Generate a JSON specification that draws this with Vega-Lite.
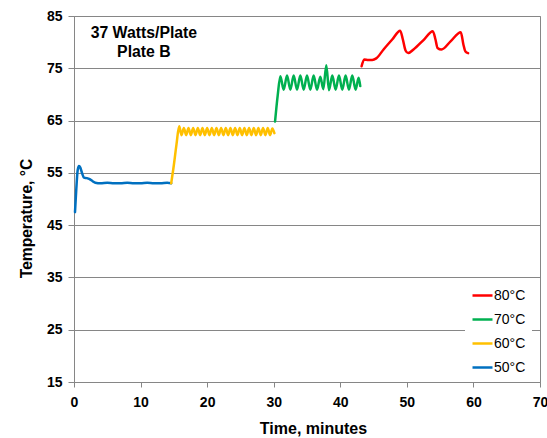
{
  "$schema": "https://vega.github.io/schema/vega-lite/v6.json",
  "width": 466,
  "height": 366,
  "autosize": {"type": "none"},
  "padding": {"left": 74, "top": 16, "right": 7, "bottom": 56},
  "background": "white",
  "config": {
    "font": "Liberation Sans",
    "view": {"stroke": "#868686", "strokeWidth": 1}
  },
  "datasets": {
    "temps": [
      {"series": "50°C", "t": 0.15, "temp": 47.5},
      {"series": "50°C", "t": 0.35, "temp": 52.0},
      {"series": "50°C", "t": 0.55, "temp": 55.5},
      {"series": "50°C", "t": 0.75, "temp": 56.3},
      {"series": "50°C", "t": 0.95, "temp": 56.0},
      {"series": "50°C", "t": 1.2, "temp": 55.0},
      {"series": "50°C", "t": 1.5, "temp": 54.1},
      {"series": "50°C", "t": 1.9, "temp": 54.0},
      {"series": "50°C", "t": 2.35, "temp": 53.8},
      {"series": "50°C", "t": 2.8, "temp": 53.4},
      {"series": "50°C", "t": 3.2, "temp": 53.1},
      {"series": "50°C", "t": 4, "temp": 53.0},
      {"series": "50°C", "t": 5, "temp": 53.1},
      {"series": "50°C", "t": 6, "temp": 53.0},
      {"series": "50°C", "t": 7, "temp": 53.0},
      {"series": "50°C", "t": 8, "temp": 53.1},
      {"series": "50°C", "t": 9, "temp": 53.0},
      {"series": "50°C", "t": 10, "temp": 53.0},
      {"series": "50°C", "t": 11, "temp": 53.1},
      {"series": "50°C", "t": 12, "temp": 53.0},
      {"series": "50°C", "t": 13, "temp": 53.0},
      {"series": "50°C", "t": 14, "temp": 53.1},
      {"series": "50°C", "t": 14.6, "temp": 53.0},

      {"series": "60°C", "t": 14.6, "temp": 53.0},
      {"series": "60°C", "t": 15.0, "temp": 56.5},
      {"series": "60°C", "t": 15.4, "temp": 60.5},
      {"series": "60°C", "t": 15.8, "temp": 63.9},
      {"series": "60°C", "t": 16.15, "temp": 62.2},
      {"series": "60°C", "t": 16.5, "temp": 63.6},
      {"series": "60°C", "t": 16.85, "temp": 62.2},
      {"series": "60°C", "t": 17.2, "temp": 63.6},
      {"series": "60°C", "t": 17.55, "temp": 62.2},
      {"series": "60°C", "t": 17.9, "temp": 63.6},
      {"series": "60°C", "t": 18.25, "temp": 62.2},
      {"series": "60°C", "t": 18.6, "temp": 63.6},
      {"series": "60°C", "t": 18.95, "temp": 62.2},
      {"series": "60°C", "t": 19.3, "temp": 63.6},
      {"series": "60°C", "t": 19.65, "temp": 62.2},
      {"series": "60°C", "t": 20.0, "temp": 63.6},
      {"series": "60°C", "t": 20.35, "temp": 62.2},
      {"series": "60°C", "t": 20.7, "temp": 63.6},
      {"series": "60°C", "t": 21.05, "temp": 62.2},
      {"series": "60°C", "t": 21.4, "temp": 63.6},
      {"series": "60°C", "t": 21.75, "temp": 62.2},
      {"series": "60°C", "t": 22.1, "temp": 63.6},
      {"series": "60°C", "t": 22.45, "temp": 62.2},
      {"series": "60°C", "t": 22.8, "temp": 63.6},
      {"series": "60°C", "t": 23.15, "temp": 62.2},
      {"series": "60°C", "t": 23.5, "temp": 63.6},
      {"series": "60°C", "t": 23.85, "temp": 62.2},
      {"series": "60°C", "t": 24.2, "temp": 63.6},
      {"series": "60°C", "t": 24.55, "temp": 62.2},
      {"series": "60°C", "t": 24.9, "temp": 63.6},
      {"series": "60°C", "t": 25.25, "temp": 62.2},
      {"series": "60°C", "t": 25.6, "temp": 63.6},
      {"series": "60°C", "t": 25.95, "temp": 62.2},
      {"series": "60°C", "t": 26.3, "temp": 63.6},
      {"series": "60°C", "t": 26.65, "temp": 62.2},
      {"series": "60°C", "t": 27.0, "temp": 63.6},
      {"series": "60°C", "t": 27.35, "temp": 62.2},
      {"series": "60°C", "t": 27.7, "temp": 63.6},
      {"series": "60°C", "t": 28.05, "temp": 62.2},
      {"series": "60°C", "t": 28.4, "temp": 63.6},
      {"series": "60°C", "t": 28.75, "temp": 62.2},
      {"series": "60°C", "t": 29.1, "temp": 63.6},
      {"series": "60°C", "t": 29.45, "temp": 62.2},
      {"series": "60°C", "t": 29.8, "temp": 63.5},
      {"series": "60°C", "t": 30.1, "temp": 62.6},

      {"series": "70°C", "t": 30.2, "temp": 64.8},
      {"series": "70°C", "t": 30.6, "temp": 69.8},
      {"series": "70°C", "t": 31.0, "temp": 73.5},
      {"series": "70°C", "t": 31.5, "temp": 70.9},
      {"series": "70°C", "t": 32.0, "temp": 73.6},
      {"series": "70°C", "t": 32.5, "temp": 70.9},
      {"series": "70°C", "t": 33.0, "temp": 73.6},
      {"series": "70°C", "t": 33.5, "temp": 70.9},
      {"series": "70°C", "t": 34.0, "temp": 73.6},
      {"series": "70°C", "t": 34.5, "temp": 70.9},
      {"series": "70°C", "t": 35.0, "temp": 73.6},
      {"series": "70°C", "t": 35.5, "temp": 70.9},
      {"series": "70°C", "t": 36.0, "temp": 73.6},
      {"series": "70°C", "t": 36.5, "temp": 70.9},
      {"series": "70°C", "t": 37.0, "temp": 73.4},
      {"series": "70°C", "t": 37.45, "temp": 71.0},
      {"series": "70°C", "t": 37.9, "temp": 75.6},
      {"series": "70°C", "t": 38.3, "temp": 70.8},
      {"series": "70°C", "t": 38.8, "temp": 73.6},
      {"series": "70°C", "t": 39.3, "temp": 70.9},
      {"series": "70°C", "t": 39.8, "temp": 73.6},
      {"series": "70°C", "t": 40.3, "temp": 70.9},
      {"series": "70°C", "t": 40.8, "temp": 73.6},
      {"series": "70°C", "t": 41.3, "temp": 70.9},
      {"series": "70°C", "t": 41.8, "temp": 73.6},
      {"series": "70°C", "t": 42.3, "temp": 70.9},
      {"series": "70°C", "t": 42.75, "temp": 73.2},
      {"series": "70°C", "t": 43.0, "temp": 71.6},

      {"series": "80°C", "t": 43.2, "temp": 75.4},
      {"series": "80°C", "t": 43.6, "temp": 76.7},
      {"series": "80°C", "t": 44.2, "temp": 76.6},
      {"series": "80°C", "t": 44.8, "temp": 76.6},
      {"series": "80°C", "t": 45.4, "temp": 76.9},
      {"series": "80°C", "t": 46.5, "temp": 78.6},
      {"series": "80°C", "t": 47.8, "temp": 80.5},
      {"series": "80°C", "t": 49.0, "temp": 82.2},
      {"series": "80°C", "t": 49.4, "temp": 80.5},
      {"series": "80°C", "t": 49.8, "temp": 78.4},
      {"series": "80°C", "t": 50.2, "temp": 77.9},
      {"series": "80°C", "t": 51.0, "temp": 78.6},
      {"series": "80°C", "t": 52.5, "temp": 80.4},
      {"series": "80°C", "t": 53.9, "temp": 82.1},
      {"series": "80°C", "t": 54.3, "temp": 80.5},
      {"series": "80°C", "t": 54.6, "temp": 78.9},
      {"series": "80°C", "t": 55.2, "temp": 78.6},
      {"series": "80°C", "t": 56.6, "temp": 80.2},
      {"series": "80°C", "t": 58.1, "temp": 81.9},
      {"series": "80°C", "t": 58.5, "temp": 79.5},
      {"series": "80°C", "t": 58.8, "temp": 78.2},
      {"series": "80°C", "t": 59.2, "temp": 77.9}
    ],
    "notes": [
      {"label": "37 Watts/Plate", "t": 10.5, "temp": 81.7},
      {"label": "Plate B", "t": 10.5, "temp": 78.1}
    ]
  },
  "layer": [
    {
      "data": {"name": "temps"},
      "mark": {"type": "line", "strokeWidth": 2.5, "strokeJoin": "round", "strokeCap": "round", "interpolate": "monotone"},
      "encoding": {
        "x": {
          "field": "t",
          "type": "quantitative",
          "scale": {"domain": [0, 70], "nice": false, "zero": false},
          "axis": {
            "values": [0, 10, 20, 30, 40, 50, 60, 70],
            "grid": false,
            "title": "Time, minutes",
            "titleFontSize": 16,
            "titleFontWeight": "bold",
            "titleColor": "black",
            "titleX": 239,
            "titlePadding": 11,
            "labelFontSize": 14,
            "labelFontWeight": "bold",
            "labelColor": "black",
            "labelPadding": 8,
            "labelFlush": false,
            "labelOverlap": false,
            "tickSize": 5,
            "tickColor": "#868686",
            "domainColor": "#868686"
          }
        },
        "y": {
          "field": "temp",
          "type": "quantitative",
          "scale": {"domain": [15, 85], "nice": false, "zero": false},
          "axis": {
            "values": [15, 25, 35, 45, 55, 65, 75, 85],
            "grid": true,
            "gridColor": "#868686",
            "gridWidth": 1,
            "title": "Temperature, °C",
            "titleFontSize": 15.6,
            "titleFontWeight": "bold",
            "titleColor": "black",
            "titleAngle": -90,
            "titleBaseline": "middle",
            "titleX": -48,
            "titleY": 202,
            "labelFontSize": 14,
            "labelFontWeight": "bold",
            "labelColor": "black",
            "labelPadding": 6,
            "labelFlush": false,
            "labelOverlap": false,
            "tickSize": 6,
            "tickColor": "#868686",
            "domainColor": "#868686"
          }
        },
        "color": {
          "field": "series",
          "type": "nominal",
          "scale": {
            "domain": ["80°C", "70°C", "60°C", "50°C"],
            "range": ["#FF0000", "#00B050", "#FFC000", "#0070C0"]
          },
          "legend": {
            "title": null,
            "orient": "none",
            "legendX": 391,
            "legendY": 262,
            "symbolType": "stroke",
            "symbolSize": 400,
            "symbolStrokeWidth": 2.5,
            "labelFontSize": 14,
            "labelColor": "black",
            "labelOffset": 0,
            "rowPadding": 5,
            "padding": 6,
            "fillColor": "white"
          }
        }
      }
    },
    {
      "data": {"name": "notes"},
      "mark": {"type": "text", "fontWeight": "bold", "fontSize": 15.8, "align": "center", "baseline": "middle", "color": "black"},
      "encoding": {
        "x": {"field": "t", "type": "quantitative"},
        "y": {"field": "temp", "type": "quantitative"},
        "text": {"field": "label"}
      }
    }
  ]
}
